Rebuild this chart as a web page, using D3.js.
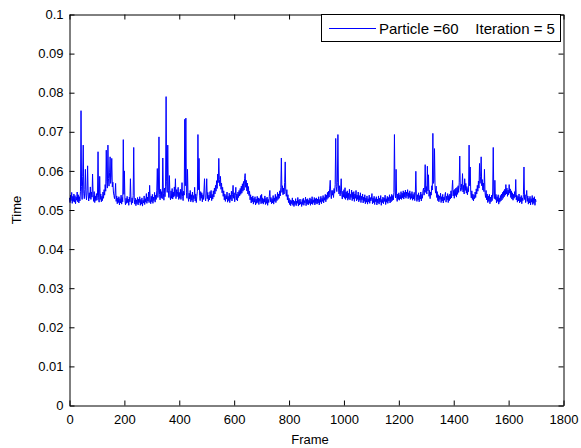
<!DOCTYPE html>
<html>
<head>
<meta charset="utf-8">
<script src="https://cdn.jsdelivr.net/npm/d3@7"></script>
<style>
  html, body { margin: 0; padding: 0; background: #fff; }
  svg { display: block; font-family: "Liberation Sans", Arial, sans-serif; }
</style>
</head>
<body>
<svg id="chart" width="581" height="448"></svg>
<script>
// ---- data (one value every 2 frames) ----
const frameStep = 2;
const timeValues = [
  0.0531,0.0519,0.0538,0.0524,0.0545,0.0517,0.0535,0.0522,0.0541,0.0520,0.0537,0.0516,0.0533,0.0525,0.0546,0.0521,0.0539,0.0518,0.0534,0.0523,0.0548,0.0754,0.0560,0.0527,0.0585,0.0666,0.0543,0.0529,0.0552,0.0604,0.0538,0.0526,0.0549,0.0613,0.0541,0.0523,0.0544,0.0530,0.0559,0.0527,0.0546,0.0533,0.0592,0.0540,0.0522,0.0547,0.0519,0.0536,0.0524,0.0542,
  0.0525,0.0538,0.0649,0.0531,0.0520,0.0586,0.0527,0.0541,0.0521,0.0535,0.0524,0.0546,0.0530,0.0552,0.0538,0.0565,0.0548,0.0653,0.0572,0.0556,0.0666,0.0580,0.0561,0.0595,0.0636,0.0568,0.0584,0.0632,0.0559,0.0571,0.0546,0.0537,0.0529,0.0543,0.0568,0.0522,0.0536,0.0516,0.0531,0.0519,0.0534,0.0513,0.0529,0.0518,0.0538,0.0515,0.0532,0.0521,0.0680,0.0540,
  0.0600,0.0524,0.0513,0.0530,0.0517,0.0535,0.0519,0.0528,0.0512,0.0533,0.0521,0.0580,0.0526,0.0514,0.0531,0.0518,0.0537,0.0660,0.0527,0.0515,0.0530,0.0511,0.0526,0.0516,0.0532,0.0513,0.0528,0.0519,0.0534,0.0512,0.0527,0.0515,0.0531,0.0510,0.0525,0.0518,0.0536,0.0514,0.0529,0.0520,0.0542,0.0517,0.0533,0.0523,0.0546,0.0519,0.0563,0.0528,0.0516,0.0535,
  0.0521,0.0540,0.0517,0.0533,0.0524,0.0545,0.0520,0.0538,0.0527,0.0549,0.0606,0.0532,0.0551,0.0687,0.0540,0.0526,0.0553,0.0531,0.0547,0.0529,0.0633,0.0543,0.0525,0.0556,0.0534,0.0561,0.0790,0.0572,0.0545,0.0666,0.0550,0.0532,0.0588,0.0538,0.0526,0.0549,0.0530,0.0555,0.0528,0.0546,0.0533,0.0559,0.0536,0.0580,0.0529,0.0552,0.0534,0.0547,0.0558,0.0527,
  0.0545,0.0530,0.0553,0.0527,0.0541,0.0570,0.0535,0.0524,0.0548,0.0538,0.0732,0.0562,0.0735,0.0544,0.0530,0.0604,0.0536,0.0522,0.0543,0.0528,0.0550,0.0521,0.0539,0.0525,0.0546,0.0520,0.0537,0.0529,0.0558,0.0523,0.0541,0.0519,0.0535,0.0548,0.0693,0.0552,0.0632,0.0538,0.0524,0.0547,0.0530,0.0544,0.0521,0.0539,0.0527,0.0551,0.0580,0.0532,0.0523,0.0541,
  0.0580,0.0529,0.0545,0.0522,0.0538,0.0526,0.0547,0.0531,0.0550,0.0524,0.0540,0.0528,0.0549,0.0533,0.0556,0.0541,0.0563,0.0548,0.0575,0.0555,0.0592,0.0570,0.0632,0.0578,0.0561,0.0586,0.0553,0.0569,0.0544,0.0558,0.0535,0.0549,0.0526,0.0541,0.0522,0.0537,0.0528,0.0546,0.0520,0.0535,0.0524,0.0543,0.0519,0.0538,0.0527,0.0548,0.0523,0.0540,0.0563,0.0530,
  0.0544,0.0521,0.0537,0.0558,0.0526,0.0541,0.0523,0.0546,0.0532,0.0550,0.0536,0.0555,0.0540,0.0561,0.0543,0.0567,0.0548,0.0573,0.0551,0.0580,0.0593,0.0558,0.0576,0.0549,0.0569,0.0541,0.0560,0.0537,0.0548,0.0526,0.0539,0.0518,0.0533,0.0521,0.0536,0.0515,0.0530,0.0520,0.0534,0.0513,0.0528,0.0517,0.0535,0.0519,0.0531,0.0514,0.0529,0.0522,0.0537,0.0516,
  0.0540,0.0518,0.0531,0.0515,0.0528,0.0520,0.0536,0.0514,0.0530,0.0517,0.0533,0.0512,0.0527,0.0519,0.0535,0.0550,0.0521,0.0532,0.0516,0.0529,0.0518,0.0537,0.0515,0.0531,0.0522,0.0540,0.0519,0.0534,0.0524,0.0545,0.0527,0.0541,0.0530,0.0549,0.0536,0.0558,0.0633,0.0545,0.0562,0.0539,0.0556,0.0541,0.0570,0.0623,0.0548,0.0535,0.0552,0.0526,0.0539,0.0519,
  0.0530,0.0514,0.0526,0.0511,0.0524,0.0516,0.0531,0.0512,0.0525,0.0509,0.0522,0.0514,0.0529,0.0511,0.0523,0.0517,0.0532,0.0510,0.0526,0.0513,0.0528,0.0515,0.0521,0.0509,0.0527,0.0514,0.0530,0.0512,0.0524,0.0518,0.0533,0.0511,0.0527,0.0515,0.0529,0.0513,0.0525,0.0517,0.0531,0.0512,0.0528,0.0516,0.0534,0.0514,0.0526,0.0519,0.0532,0.0513,0.0529,0.0517,
  0.0531,0.0515,0.0528,0.0518,0.0534,0.0513,0.0527,0.0520,0.0535,0.0516,0.0530,0.0522,0.0537,0.0518,0.0532,0.0525,0.0540,0.0521,0.0538,0.0527,0.0545,0.0530,0.0548,0.0533,0.0556,0.0576,0.0541,0.0529,0.0550,0.0538,0.0550,0.0532,0.0555,0.0543,0.0565,0.0683,0.0560,0.0547,0.0570,0.0693,0.0556,0.0541,0.0562,0.0536,0.0551,0.0580,0.0539,0.0528,0.0548,0.0533,
  0.0552,0.0530,0.0557,0.0527,0.0546,0.0531,0.0549,0.0525,0.0543,0.0529,0.0553,0.0526,0.0540,0.0532,0.0551,0.0524,0.0545,0.0528,0.0547,0.0522,0.0541,0.0530,0.0550,0.0523,0.0538,0.0527,0.0546,0.0521,0.0537,0.0525,0.0544,0.0519,0.0535,0.0526,0.0541,0.0518,0.0533,0.0522,0.0539,0.0516,0.0531,0.0520,0.0536,0.0515,0.0529,0.0521,0.0538,0.0517,0.0532,0.0523,
  0.0528,0.0542,0.0516,0.0531,0.0519,0.0535,0.0514,0.0529,0.0521,0.0534,0.0513,0.0528,0.0518,0.0536,0.0515,0.0530,0.0520,0.0537,0.0512,0.0527,0.0519,0.0533,0.0516,0.0531,0.0522,0.0538,0.0514,0.0529,0.0520,0.0535,0.0517,0.0532,0.0523,0.0539,0.0518,0.0534,0.0521,0.0540,0.0524,0.0537,0.0526,0.0545,0.0693,0.0548,0.0531,0.0604,0.0536,0.0522,0.0541,0.0527,
  0.0544,0.0525,0.0539,0.0529,0.0547,0.0527,0.0543,0.0531,0.0549,0.0528,0.0545,0.0533,0.0551,0.0530,0.0546,0.0535,0.0552,0.0529,0.0544,0.0532,0.0549,0.0527,0.0542,0.0530,0.0547,0.0525,0.0540,0.0528,0.0545,0.0524,0.0541,0.0599,0.0533,0.0522,0.0539,0.0526,0.0544,0.0521,0.0537,0.0528,0.0546,0.0523,0.0540,0.0530,0.0549,0.0556,0.0538,0.0552,0.0616,0.0545,
  0.0560,0.0541,0.0612,0.0549,0.0590,0.0535,0.0550,0.0529,0.0546,0.0538,0.0562,0.0551,0.0696,0.0568,0.0575,0.0657,0.0558,0.0543,0.0561,0.0532,0.0547,0.0524,0.0539,0.0521,0.0536,0.0527,0.0543,0.0519,0.0534,0.0523,0.0540,0.0518,0.0533,0.0525,0.0538,0.0545,0.0520,0.0535,0.0526,0.0542,0.0519,0.0537,0.0524,0.0541,0.0528,0.0549,0.0531,0.0553,0.0576,0.0536,
  0.0550,0.0530,0.0553,0.0537,0.0556,0.0533,0.0558,0.0540,0.0562,0.0545,0.0571,0.0638,0.0557,0.0548,0.0566,0.0552,0.0593,0.0546,0.0563,0.0541,0.0580,0.0550,0.0568,0.0543,0.0560,0.0539,0.0555,0.0547,0.0666,0.0562,0.0610,0.0544,0.0531,0.0549,0.0527,0.0541,0.0523,0.0538,0.0529,0.0546,0.0532,0.0554,0.0541,0.0563,0.0548,0.0574,0.0556,0.0619,0.0568,0.0585,
  0.0636,0.0562,0.0578,0.0551,0.0569,0.0547,0.0604,0.0545,0.0532,0.0550,0.0526,0.0541,0.0519,0.0536,0.0522,0.0540,0.0516,0.0533,0.0521,0.0538,0.0524,0.0546,0.0660,0.0541,0.0529,0.0576,0.0527,0.0540,0.0518,0.0534,0.0522,0.0539,0.0515,0.0531,0.0520,0.0537,0.0523,0.0541,0.0526,0.0545,0.0530,0.0549,0.0534,0.0553,0.0538,0.0565,0.0541,0.0556,0.0535,0.0551,
  0.0539,0.0565,0.0543,0.0554,0.0532,0.0549,0.0528,0.0544,0.0525,0.0540,0.0530,0.0547,0.0533,0.0578,0.0526,0.0538,0.0520,0.0535,0.0523,0.0541,0.0518,0.0533,0.0521,0.0537,0.0516,0.0531,0.0524,0.0540,0.0610,0.0527,0.0539,0.0519,0.0534,0.0550,0.0522,0.0536,0.0515,0.0530,0.0518,0.0535,0.0513,0.0529,0.0520,0.0537,0.0514,0.0531,0.0517,0.0534,0.0512,0.0528,
  0.0521
];
const frames = timeValues.map((_, i) => i * frameStep);
const xTicks = [0, 200, 400, 600, 800, 1000, 1200, 1400, 1600, 1800];
const xTickLabels = ["0","200","400","600","800","1000","1200","1400","1600","1800"];
const yTicks = [0, 0.01, 0.02, 0.03, 0.04, 0.05, 0.06, 0.07, 0.08, 0.09, 0.1];
const yTickLabels = ["0","0.01","0.02","0.03","0.04","0.05","0.06","0.07","0.08","0.09","0.1"];
const legendLabel = "Particle =60    Iteration = 5";
const xLabel = "Frame";
const yLabel = "Time";

// ---- drawing ----
const svg = d3.select("#chart");
const L = 69.5, R = 563.5, T = 14.5, B = 405.5;

const x = d3.scaleLinear().domain([0, 1800]).range([L, R]);
const y = d3.scaleLinear().domain([0, 0.1]).range([B, T]);

// data line
const line = d3.line().x((d, i) => x(frames[i])).y(d => y(d));
svg.append("path")
  .datum(timeValues)
  .attr("d", line)
  .attr("fill", "none")
  .attr("stroke", "#0000ff")
  .attr("stroke-width", 1)
  .attr("stroke-linejoin", "miter");

// axes
const fs = "13px";
const gB = svg.append("g").attr("transform", `translate(0,${B})`)
  .call(d3.axisBottom(x).tickValues(xTicks).tickFormat((d, i) => xTickLabels[i])
    .tickSizeInner(-5).tickSizeOuter(0).tickPadding(9));
const gT = svg.append("g").attr("transform", `translate(0,${T})`)
  .call(d3.axisTop(x).tickValues(xTicks).tickFormat("").tickSizeInner(-5).tickSizeOuter(0));
const gLf = svg.append("g").attr("transform", `translate(${L},0)`)
  .call(d3.axisLeft(y).tickValues(yTicks).tickFormat((d, i) => yTickLabels[i])
    .tickSizeInner(-5).tickSizeOuter(0).tickPadding(6));
const gRt = svg.append("g").attr("transform", `translate(${R},0)`)
  .call(d3.axisRight(y).tickValues(yTicks).tickFormat("").tickSizeInner(-5).tickSizeOuter(0));

[gB, gT, gLf, gRt].forEach(g => {
  g.selectAll("path.domain").attr("stroke", "#000").attr("stroke-width", 1);
  g.selectAll(".tick line").attr("stroke", "#000");
  g.selectAll("text").attr("fill", "#000").style("font-size", fs)
    .style("font-family", "'Liberation Sans', Arial, sans-serif");
});

// axis labels
svg.append("text").attr("x", 310).attr("y", 444).attr("text-anchor", "middle")
  .style("font-size", fs).attr("fill", "#000").text(xLabel);
svg.append("text").attr("transform", "translate(21,210) rotate(-90)").attr("text-anchor", "middle")
  .style("font-size", fs).attr("fill", "#000").text(yLabel);

// legend
const lg = svg.append("g");
lg.append("rect").attr("x", 321.5).attr("y", 14.5).attr("width", 239).attr("height", 27)
  .attr("fill", "#fff").attr("stroke", "#000").attr("stroke-width", 1);
lg.append("line").attr("x1", 329).attr("x2", 376).attr("y1", 28.5).attr("y2", 28.5)
  .attr("stroke", "#0000ff").attr("stroke-width", 1);
lg.append("text").attr("x", 379).attr("y", 33.5)
  .style("font-size", "15px").style("white-space", "pre").attr("xml:space", "preserve")
  .attr("fill", "#000").text(legendLabel);
</script>
</body>
</html>
